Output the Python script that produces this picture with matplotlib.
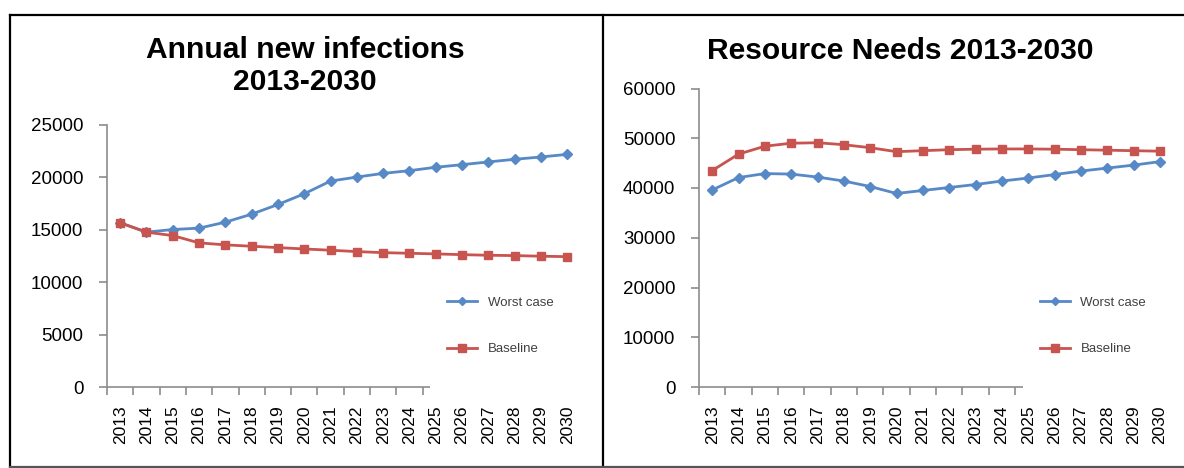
import matplotlib
matplotlib.use("Agg")
import matplotlib.pyplot as plt
from matplotlib.patches import Rectangle
from matplotlib.lines import Line2D

plt.rcParams['font.family'] = ['Liberation Sans', 'DejaVu Sans']

years = [str(y) for y in range(2013, 2031)]

# Annual new infections
inf_worst = [15650, 14760, 15010, 15140, 15710, 16470, 17390, 18410, 19620,
             20000, 20350, 20610, 20930, 21180, 21440, 21690, 21910, 22160]
inf_base = [15650, 14760, 14430, 13740, 13550, 13420, 13290, 13160, 13040,
            12910, 12810, 12750, 12690, 12620, 12560, 12530, 12470, 12430]

# Resource needs
res_worst = [39600, 42100, 42900, 42800, 42200, 41400, 40300, 38900, 39500,
             40100, 40700, 41400, 42000, 42700, 43400, 44000, 44600, 45300]
res_base = [43500, 46800, 48400, 49000, 49100, 48700, 48100, 47300, 47500,
            47700, 47800, 47850, 47850, 47800, 47700, 47600, 47500, 47400]

labels = ['Worst case', 'Baseline']

BLUE = '#5689C6'
RED = '#C8544F'
GREY = '#8C8C8C'

W, H = 1184, 468
fig = plt.figure(figsize=(W / 100, H / 100), dpi=100)


def fx(px):
    return px / W


def fy(py):
    return (H - py) / H


def panel(rect, worst, base, ymax, step):
    ax = fig.add_axes(rect)
    x = range(len(years))
    ax.plot(x, worst, color=BLUE, lw=2, marker='D', ms=5.5,
            mfc=BLUE, mec=BLUE, zorder=3)
    ax.plot(x, base, color=RED, lw=2, marker='s', ms=6,
            mfc=RED, mec=RED, zorder=3)
    ax.set_xlim(-0.5, len(years) - 0.5)
    ax.set_ylim(0, ymax)
    ax.set_yticks(range(0, ymax + 1, step))
    ax.set_xticks([i - 0.5 for i in range(len(years) + 1)])
    ax.set_xticklabels([])
    ax.set_xticks(list(x), minor=True)
    ax.set_xticklabels(years, minor=True, rotation=90, fontsize=12.5)
    ax.tick_params(axis='x', which='minor', length=0, pad=13)
    ax.tick_params(axis='x', which='major', length=6, width=1.2, color=GREY)
    ax.tick_params(axis='y', length=6, width=1.2, color=GREY, labelsize=13.5, pad=11)
    for s in ['top', 'right']:
        ax.spines[s].set_visible(False)
    for s in ['left', 'bottom']:
        ax.spines[s].set_color(GREY)
        ax.spines[s].set_linewidth(1.2)
    return ax


ax1 = panel([fx(107), fy(387.3), fx(473.4), (387.3 - 124.5) / H],
            inf_worst, inf_base, 25000, 5000)
ax2 = panel([fx(699), fy(387), fx(474), (387 - 88.5) / H],
            res_worst, res_base, 60000, 10000)

# white boxes where the legends sit (they hide the end of the x axis)
for left, right in [(430, 601), (1023, 1182)]:
    fig.add_artist(Rectangle((fx(left), fy(397)), fx(right - left), (397 - 268) / H,
                             transform=fig.transFigure, facecolor='white',
                             edgecolor='none', zorder=1))

handles = [Line2D([], [], color=BLUE, lw=2, marker='D', ms=4.5),
           Line2D([], [], color=RED, lw=2, marker='s', ms=5.5)]
for lx in [440, 1033]:
    fig.legend(handles, labels, loc='upper left', bbox_to_anchor=(fx(lx), fy(290)),
               frameon=False, fontsize=9.5, handlelength=2.3, handletextpad=0.8,
               labelspacing=2.6, borderpad=0, labelcolor='#404040')

fig.text(fx(305), fy(66), 'Annual new infections\n2013-2030', ha='center', va='center',
         fontsize=21.6, fontweight='bold', linespacing=1.2)
fig.text(fx(900), fy(51), 'Resource Needs 2013-2030', ha='center', va='center',
         fontsize=21.6, fontweight='bold')

# frame around both charts
border = [((10, 1184), (15, 15), 'black'),
          ((10, 10), (15, 467), 'black'),
          ((603, 603), (15, 467), 'black'),
          ((10, 1184), (467, 467), '#555555')]
for xs, ys, c in border:
    fig.add_artist(Line2D([fx(v) for v in xs], [fy(v) for v in ys], color=c, lw=1.6,
                          transform=fig.transFigure, zorder=6))

fig.savefig('out.png', dpi=100)
